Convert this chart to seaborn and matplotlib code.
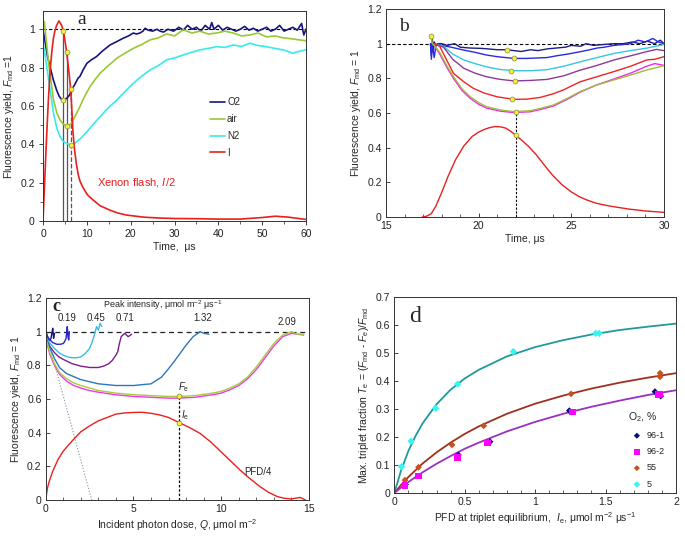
import matplotlib
matplotlib.use("Agg")
import matplotlib.pyplot as plt
from matplotlib.ticker import MultipleLocator, FuncFormatter
import seaborn as sns

# ---- panel a: fluorescence under xenon flash ----
a_t_o2 = [0, 0.5, 1, 1.6, 2.3, 3.1, 3.7, 4.3, 4.8, 5.4, 6, 6.5, 7.2, 8, 8.4, 9.2, 10, 11, 12.2, 13.5,
          15.3, 16.8, 18.3, 19.5, 20.6, 21.3, 22.1, 22.8, 23.3, 24, 25, 26, 26.7, 27.5, 28.5, 29.8, 31, 32, 33, 34,
          35, 36, 37, 38, 38.5, 39, 40, 41, 42, 43, 44, 45, 46, 47, 48, 49, 50, 51, 52, 53,
          54, 55, 56, 57, 58, 59, 59.5, 60]
a_o2 = [1.0, 0.93, 0.86, 0.805, 0.74, 0.683, 0.65, 0.632, 0.628, 0.64, 0.655, 0.683, 0.71, 0.745, 0.753, 0.79, 0.822, 0.84, 0.857, 0.885,
        0.918, 0.935, 0.953, 0.965, 0.98, 0.975, 0.98, 0.99, 1.005, 0.995, 0.99, 1.0, 0.99, 0.985, 1.0, 0.99, 1.01, 0.995, 1.02, 1.0,
        1.01, 0.99, 1.02, 1.0, 1.035, 1.0, 1.02, 0.995, 1.01, 1.0, 0.99, 1.0, 1.015, 0.995, 1.005, 0.99, 1.0, 1.01, 0.99, 1.0,
        1.02, 0.99, 1.0, 1.01, 0.995, 1.03, 0.97, 1.0]
a_t_air = [0, 0.3, 0.7, 1.4, 2.4, 3.2, 3.9, 4.6, 5.4, 6.0, 6.5, 7.4, 8.4, 9.5, 10.7, 11.8, 13, 14.9, 16.8, 18.7,
           20.6, 22.5, 24.4, 26.3, 28.2, 30, 32, 34, 35.8, 37.7, 39.6, 41.5, 43.4, 45.3, 47.2, 49, 51, 53, 54.8, 56.7,
           58.6, 60]
a_air = [1.0, 1.04, 0.95, 0.8, 0.63, 0.56, 0.526, 0.505, 0.495, 0.5, 0.51, 0.55, 0.596, 0.65, 0.70, 0.735, 0.77, 0.81, 0.848, 0.875,
         0.9, 0.92, 0.944, 0.955, 0.975, 0.965, 0.997, 0.98, 0.99, 0.975, 0.98, 0.99, 0.98, 0.965, 0.97, 0.98, 0.96, 0.965, 0.955, 0.95,
         0.944, 0.94]
a_t_n2 = [0, 0.5, 1.4, 2.4, 3.2, 3.9, 4.6, 5.4, 6.3, 7.0, 7.7, 8.8, 10, 11.5, 13, 14.9, 16.8, 18.7, 20.6, 22.5,
          24.4, 26.3, 28.2, 30, 32, 34, 35.8, 37.7, 39.6, 41.5, 43.4, 45.3, 47.2, 49, 51, 52.9, 54.8, 57, 58.5, 60]
a_n2 = [0.93, 0.86, 0.72, 0.56, 0.48, 0.44, 0.415, 0.404, 0.395, 0.40, 0.413, 0.435, 0.465, 0.505, 0.544, 0.59, 0.63, 0.675, 0.718, 0.755,
        0.787, 0.81, 0.84, 0.85, 0.866, 0.88, 0.892, 0.9, 0.909, 0.905, 0.918, 0.91, 0.927, 0.915, 0.909, 0.9, 0.892, 0.875, 0.885, 0.892]
a_t_flash = [0, 0.4, 0.8, 1.2, 1.6, 2.0, 2.35, 2.7, 3.1, 3.65, 4.25, 4.65, 4.95, 5.4, 5.85, 6.3, 6.55, 6.85, 7.2, 7.6,
             8.0, 8.4, 9.0, 9.5, 10.2, 11.4, 12.2, 13, 15.2, 17, 19, 23, 26, 30, 35, 40, 45, 50, 53, 56,
             60]
a_flash = [0, 0.22, 0.43, 0.62, 0.78, 0.88, 0.95, 0.99, 1.02, 1.043, 1.02, 0.99, 0.95, 0.88, 0.79, 0.69, 0.59, 0.46, 0.37, 0.30,
           0.245, 0.21, 0.18, 0.16, 0.135, 0.11, 0.095, 0.08, 0.057, 0.042, 0.031, 0.02, 0.016, 0.013, 0.012, 0.01, 0.01, 0.018, 0.025, 0.02,
           0.008]
a_mark_t = [4.65, 5.4, 6.3]
a_mark_flash = [0.99, 0.88, 0.69]
a_mark_min = [0.63, 0.495, 0.395]
a_labels = ["O2", "air", "N2", "I"]

# ---- panel b: flashes of different intensity ----
b_t_1 = [17.4, 17.45, 17.5, 17.55, 17.6, 17.7, 17.8, 18.0, 18.3, 18.7, 19.0, 19.5, 20.1, 20.5, 21.0, 21.5, 21.9, 22.3, 22.8, 23.2,
         23.7, 24.2, 24.7, 25.0, 25.5, 25.8, 26.2, 26.7, 27.3, 27.8, 28.3, 28.7, 29.1, 29.5, 29.8, 30.0]
b_y_1 = [1.0, 0.93, 1.03, 0.95, 1.01, 0.99, 1.0, 1.0, 0.99, 1.0, 0.98, 0.975, 0.973, 0.97, 0.965, 0.965, 0.96, 0.955, 0.965, 0.96,
         0.97, 0.975, 0.98, 0.99, 0.985, 1.0, 0.99, 0.995, 1.0, 1.0, 1.01, 1.0, 1.015, 1.0, 1.02, 1.0]
b_t_2 = [17.4, 17.45, 17.5, 17.6, 17.7, 17.8, 18.0, 18.5, 19.2, 19.8, 20.4, 21.0, 21.9, 22.6, 23.3, 23.7, 24.2, 24.8, 25.5, 26.0,
         26.4, 26.8, 27.3, 27.8, 28.2, 28.6, 29.0, 29.4, 29.7, 30.0]
b_y_2 = [1.0, 0.91, 1.0, 0.92, 0.99, 1.0, 0.99, 0.98, 0.963, 0.95, 0.935, 0.925, 0.915, 0.915, 0.918, 0.92, 0.93, 0.94, 0.954, 0.965,
         0.975, 0.98, 0.99, 0.995, 1.0, 1.02, 1.01, 1.03, 1.01, 1.0]
b_t_3 = [17.6, 18.1, 18.6, 19.2, 19.8, 20.4, 21.1, 21.9, 22.8, 23.7, 24.6, 25.5, 26.4, 27.3, 28.2, 29.1, 30.0]
b_y_3 = [1.0, 0.985, 0.94, 0.906, 0.885, 0.867, 0.852, 0.844, 0.844, 0.85, 0.87, 0.896, 0.92, 0.944, 0.96, 0.975, 0.995]
b_t_4 = [17.6, 18.1, 18.6, 19.2, 19.8, 20.4, 21.1, 21.9, 22.8, 23.7, 24.6, 25.5, 26.4, 27.3, 28.2, 29.1, 29.6, 30.0]
b_y_4 = [1.0, 0.98, 0.91, 0.858, 0.83, 0.81, 0.795, 0.785, 0.788, 0.794, 0.815, 0.848, 0.875, 0.906, 0.93, 0.955, 0.967, 0.96]
b_t_5 = [17.6, 17.9, 18.3, 18.64, 19.2, 19.72, 20.3, 20.98, 21.88, 22.6, 23.32, 24.0, 24.57, 25.47, 26.4, 27.27, 28.2, 29.07, 29.5, 30.0]
b_y_5 = [1.0, 0.985, 0.9, 0.829, 0.78, 0.742, 0.715, 0.694, 0.679, 0.68, 0.69, 0.71, 0.733, 0.78, 0.81, 0.838, 0.87, 0.906, 0.91, 0.925]
b_t_6 = [17.6, 17.9, 18.3, 18.64, 19.1, 19.54, 20.0, 20.44, 21.2, 21.88, 22.78, 23.4, 24.03, 24.8, 25.47, 26.37, 27.27, 28.2, 29.07, 29.5, 30.0]
b_y_6 = [0.99, 0.94, 0.86, 0.8, 0.73, 0.685, 0.65, 0.628, 0.61, 0.603, 0.607, 0.622, 0.64, 0.68, 0.72, 0.762, 0.795, 0.83, 0.87, 0.885, 0.875]
b_t_7 = [17.45, 17.5, 17.6, 17.9, 18.3, 18.64, 19.1, 19.54, 20.0, 20.44, 21.2, 21.88, 22.78, 23.4, 24.03, 24.8, 25.47, 26.37, 27.27, 28.2,
         29.07, 30.0]
b_y_7 = [1.045, 1.0, 0.99, 0.95, 0.87, 0.81, 0.74, 0.694, 0.66, 0.636, 0.617, 0.608, 0.613, 0.628, 0.646, 0.685, 0.723, 0.762, 0.79, 0.819,
         0.848, 0.873]
b_t_flash = [16.95, 17.2, 17.45, 17.7, 18.0, 18.35, 18.75, 19.2, 19.65, 20.0, 20.3, 20.6, 20.9, 21.2, 21.45, 21.7, 21.97, 22.3, 22.7, 23.1,
             23.6, 24.0, 24.5, 25.0, 25.4, 25.8, 26.3, 26.7, 27.2, 28.1, 29.0, 30.0]
b_flash = [0, 0.005, 0.02, 0.065, 0.14, 0.235, 0.33, 0.41, 0.465, 0.49, 0.505, 0.516, 0.522, 0.52, 0.513, 0.497, 0.474, 0.445, 0.407, 0.36,
           0.292, 0.24, 0.186, 0.145, 0.119, 0.1, 0.081, 0.071, 0.061, 0.046, 0.035, 0.027]
b_mark_t = [21.52, 21.93, 21.75, 21.95, 21.78, 22.0, 22.0, 17.45]
b_mark_y = [0.965, 0.918, 0.845, 0.785, 0.679, 0.608, 0.474, 1.045]

# ---- panel c: yield vs incident photon dose ----
c_q_1 = [0, 0.05, 0.1, 0.15, 0.2, 0.25, 0.3, 0.35, 0.4, 0.45, 0.5]
c_y_1 = [1.02, 0.99, 0.97, 0.955, 0.95, 0.95, 0.96, 0.99, 1.02, 0.96, 0.99]
c_q_2 = [0, 0.2, 0.4, 0.63, 0.85, 1.01, 1.1, 1.16, 1.2, 1.23, 1.27, 1.31, 1.35]
c_y_2 = [0.99, 0.955, 0.935, 0.925, 0.925, 0.93, 0.945, 0.96, 1.0, 1.03, 0.97, 0.95, 1.0]
c_q_3 = [0, 0.25, 0.5, 0.75, 1.0, 1.25, 1.5, 1.75, 2.0, 2.25, 2.5, 2.65, 2.8, 2.9, 3.0, 3.1, 3.2]
c_y_3 = [0.97, 0.93, 0.9, 0.875, 0.86, 0.85, 0.845, 0.845, 0.85, 0.87, 0.9, 0.94, 0.99, 1.03, 1.01, 1.05, 1.03]
c_q_4 = [0, 0.25, 0.5, 0.75, 1.0, 1.5, 2.0, 2.5, 3.0, 3.3, 3.6, 3.8, 4.0, 4.1, 4.2, 4.3, 4.5, 4.7, 4.9]
c_y_4 = [0.96, 0.91, 0.875, 0.85, 0.835, 0.81, 0.795, 0.787, 0.787, 0.795, 0.81, 0.83, 0.86, 0.88, 0.93, 0.97, 0.99, 0.97, 0.985]
c_q_5 = [0, 0.25, 0.5, 0.8, 1.2, 2, 3, 4, 5, 6, 6.6, 7.0, 7.3, 7.65, 8.0, 8.4, 8.8, 9.0, 9.3]
c_y_5 = [0.97, 0.9, 0.84, 0.785, 0.75, 0.715, 0.69, 0.68, 0.68, 0.69, 0.73, 0.78, 0.82, 0.87, 0.92, 0.97, 1.0, 0.99, 0.985]
c_q_6 = [0, 0.25, 0.5, 0.8, 1.2, 1.6, 2, 2.5, 3, 4, 5, 6, 7, 7.6, 8.5, 9.5, 10, 10.5, 11, 11.5,
         12, 12.5, 13, 13.5, 14, 14.3, 14.7]
c_y_6 = [0.96, 0.87, 0.81, 0.755, 0.72, 0.695, 0.68, 0.665, 0.65, 0.635, 0.625, 0.62, 0.615, 0.615, 0.62, 0.635, 0.645, 0.665, 0.69, 0.73,
         0.79, 0.86, 0.93, 0.98, 1.0, 0.985, 0.985]
c_y_7 = [0.96, 0.86, 0.80, 0.745, 0.705, 0.68, 0.665, 0.65, 0.64, 0.625, 0.615, 0.61, 0.605, 0.605, 0.61, 0.625, 0.635, 0.655, 0.68, 0.72,
         0.775, 0.845, 0.915, 0.97, 0.99, 0.985, 0.98]
c_q_pfd = [0, 0.1, 0.2, 0.4, 0.7, 1.0, 1.5, 2.0, 2.5, 3, 3.5, 4, 4.5, 5, 5.5, 6, 6.5, 7, 7.6, 8.2,
           8.8, 9.4, 10, 10.6, 11.1, 11.6, 12.2, 12.7, 13.2, 13.6, 14, 14.3, 14.5, 14.8]
c_pfd = [0, 0.07, 0.11, 0.17, 0.24, 0.29, 0.35, 0.405, 0.44, 0.47, 0.49, 0.51, 0.517, 0.52, 0.521, 0.515, 0.505, 0.49, 0.46, 0.43,
         0.395, 0.345, 0.285, 0.225, 0.175, 0.13, 0.08, 0.045, 0.02, 0.01, 0.006, 0.012, 0.015, 0.0]
c_tan_q = [0, 2.62]
c_tan_y = [1.0, 0.0]
c_peaks = ["0.19", "0.45", "0.71", "1.32", "2.09"]
c_peak_q = [1.19, 2.87, 4.52, 8.94, 13.77]
c_peak_y = [1.08, 1.08, 1.08, 1.08, 1.06]
c_eq_q = 7.62
c_eq_f = 0.615
c_eq_i = 0.46

# ---- panel d: triplet fraction vs PFD ----
d_x_fit = [0, 0.05, 0.1, 0.15, 0.2, 0.3, 0.4, 0.5, 0.6, 0.8, 1.0, 1.2, 1.4, 1.6, 1.8, 2.0]
d_fit_5 = [0, 0.0835, 0.150, 0.203, 0.248, 0.317, 0.369, 0.409, 0.440, 0.488, 0.521, 0.546, 0.566, 0.582, 0.594, 0.605]
d_fit_55 = [0, 0.0298, 0.057, 0.081, 0.105, 0.145, 0.180, 0.211, 0.238, 0.283, 0.319, 0.348, 0.373, 0.394, 0.412, 0.428]
d_fit_96 = [0, 0.020, 0.039, 0.057, 0.0736, 0.1045, 0.132, 0.158, 0.180, 0.220, 0.254, 0.283, 0.308, 0.330, 0.350, 0.367]
d_x_961 = [0.08, 0.455, 0.68, 1.243, 1.851, 1.892]
d_y_961 = [0.03, 0.136, 0.183, 0.294, 0.362, 0.346]
d_x_962 = [0.076, 0.172, 0.45, 0.663, 1.267, 1.876, 1.887]
d_y_962 = [0.027, 0.061, 0.127, 0.179, 0.29, 0.352, 0.352]
d_x_55 = [0.076, 0.172, 0.41, 0.635, 1.255, 1.887, 1.887]
d_y_55 = [0.046, 0.092, 0.172, 0.24, 0.354, 0.428, 0.415]
d_x_5 = [0.052, 0.119, 0.294, 0.45, 0.845, 1.43, 1.455]
d_y_5 = [0.094, 0.185, 0.303, 0.389, 0.505, 0.57, 0.57]
d_labels = ["96-1", "96-2", "55", "5"]

sns.set_theme(style="ticks")
plt.rcParams["font.family"] = ["Liberation Sans", "DejaVu Sans"]
plt.rcParams["mathtext.fontset"] = "custom"
plt.rcParams["mathtext.rm"] = "Liberation Sans"
plt.rcParams["mathtext.it"] = "Liberation Sans:italic"
plt.rcParams["mathtext.bf"] = "Liberation Sans:bold"
plt.rcParams["axes.linewidth"] = 0.7
plt.rcParams["axes.edgecolor"] = "#333333"

FS = 7.5
fmt = FuncFormatter(lambda v, p: f"{v:g}")
YEL = dict(marker="o", markersize=3.5, markerfacecolor="#f4f040", markeredgecolor="#8a8a30",
           markeredgewidth=0.5, linestyle="none", zorder=6)


def style(ax, xlim, ylim, xmaj, xmin, ymaj, ymin, direction):
    ax.set_xlim(*xlim)
    ax.set_ylim(*ylim)
    ax.xaxis.set_major_locator(MultipleLocator(xmaj))
    ax.yaxis.set_major_locator(MultipleLocator(ymaj))
    if xmin:
        ax.xaxis.set_minor_locator(MultipleLocator(xmin))
    if ymin:
        ax.yaxis.set_minor_locator(MultipleLocator(ymin))
    ax.xaxis.set_major_formatter(fmt)
    ax.yaxis.set_major_formatter(fmt)
    ax.tick_params(which="major", direction=direction, length=3, width=0.6, labelsize=FS, pad=3, colors="#222222")
    ax.tick_params(which="minor", direction=direction, length=2, width=0.5)
    for s in ax.spines.values():
        s.set_visible(True)


def line(ax, x, y, color, lw=1.0, **kw):
    sns.lineplot(x=x, y=y, ax=ax, color=color, linewidth=lw, sort=False, estimator=None, **kw)


fig = plt.figure(figsize=(6.85, 5.36), dpi=100)
ax_a = fig.add_axes([0.0628, 0.5877, 0.3839, 0.3918])
ax_b = fig.add_axes([0.5635, 0.5951, 0.4058, 0.3881])
ax_c = fig.add_axes([0.0667, 0.0672, 0.3844, 0.3769])
ax_d = fig.add_axes([0.5756, 0.0802, 0.4112, 0.3657])

# panel a
ax = ax_a
ax.plot([0, 60], [1, 1], color="black", lw=0.8, ls=(0, (3, 2)), zorder=1)
for tt, top, ls in zip(a_mark_t, a_mark_flash, ["-", "-", "--"]):
    ax.plot([tt, tt], [0, top], color="#555555", lw=0.9, ls=ls, zorder=2)
line(ax, a_t_o2, a_o2, "#16167a", 1.2, label=a_labels[0])
line(ax, a_t_air, a_air, "#99c833", 1.2, label=a_labels[1])
line(ax, a_t_n2, a_n2, "#35ecec", 1.2, label=a_labels[2])
line(ax, a_t_flash, a_flash, "#e8201e", 1.2, label=a_labels[3])
ax.plot(a_mark_t, a_mark_flash, **YEL)
ax.plot(a_mark_t, a_mark_min, **YEL)
ax.legend(loc="upper left", bbox_to_anchor=(0.6, 0.63), frameon=False, fontsize=7,
          handlelength=1.6, handletextpad=0.2, labelspacing=0.7)
ax.text(8.8, 1.05, "a", fontsize=14, family="Liberation Serif", ha="center", va="center")
ax.text(12.3, 0.2, "Xenon flash, $\\mathit{I}$/2", color="#e8201e", fontsize=8, va="center")
style(ax, (0, 60), (0, 1.095), 10, 5, 0.2, 0.1, "out")
ax.set_xlabel("Time,  μs", fontsize=FS, labelpad=2)
ax.set_ylabel("Fluorescence yield, $F_{\\rm md}$ =1", fontsize=FS, labelpad=3)

# panel b
ax = ax_b
ax.plot([15, 30], [1, 1], color="black", lw=0.8, ls=(0, (3, 2)), zorder=1)
ax.plot([22, 22], [0, 0.608], color="black", lw=0.8, ls=(0, (2, 1.5)), zorder=2)
line(ax, b_t_1, b_y_1, "#1c1c82")
line(ax, b_t_2, b_y_2, "#2a2ae0")
line(ax, b_t_3, b_y_3, "#36c6e6")
line(ax, b_t_4, b_y_4, "#8c3a96")
line(ax, b_t_5, b_y_5, "#ee2424")
line(ax, b_t_6, b_y_6, "#ee2aee")
line(ax, b_t_7, b_y_7, "#a0bc36")
line(ax, b_t_flash, b_flash, "#e8201e")
ax.plot(b_mark_t, b_mark_y, **YEL)
ax.text(15.95, 1.1, "b", fontsize=14, family="Liberation Serif", ha="center", va="center")
style(ax, (15, 30), (0, 1.2), 5, 1, 0.2, None, "in")
ax.set_xlabel("Time, μs", fontsize=FS, labelpad=2)
ax.set_ylabel("Fluorescence yield, $F_{\\rm md}$ = 1", fontsize=FS, labelpad=3)

# panel c
ax = ax_c
ax.plot([0, 15], [1, 1], color="#222222", lw=0.9, ls=(0, (4, 3)), zorder=1)
ax.plot([c_eq_q, c_eq_q], [0, c_eq_f], color="black", lw=0.9, ls=(0, (2, 1.5)), zorder=2)
line(ax, c_tan_q, c_tan_y, "#8090a8", 0.8, linestyle=":")
line(ax, c_q_1, c_y_1, "#101080")
line(ax, c_q_2, c_y_2, "#2626c8")
line(ax, c_q_3, c_y_3, "#38bce8")
line(ax, c_q_4, c_y_4, "#7a1f8a")
line(ax, c_q_5, c_y_5, "#2a78bc")
line(ax, c_q_6, c_y_7, "#ee36ee")
line(ax, c_q_6, c_y_6, "#a8cc38")
line(ax, c_q_pfd, c_pfd, "#e8201e")
ax.plot([c_eq_q, c_eq_q], [c_eq_f, c_eq_i], **YEL)
for lab, q, y in zip(c_peaks, c_peak_q, c_peak_y):
    ax.text(q, y, lab, fontsize=7, ha="center", va="center")
ax.text(6.65, 1.157, "Peak intensity, μmol m$^{-2}$ μs$^{-1}$", fontsize=6.5, ha="center", va="center")
ax.text(0.6, 1.15, "c", fontsize=13, family="Liberation Serif", fontweight="bold", ha="center", va="center")
ax.text(7.85, 0.67, "$F_{\\rm e}$", fontsize=7, ha="center", va="center")
ax.text(7.95, 0.505, "$I_{\\rm e}$", fontsize=7, ha="center", va="center")
ax.text(12.1, 0.168, "PFD/4", fontsize=7, ha="center", va="center")
style(ax, (0, 15), (0, 1.2), 5, 1, 0.2, None, "in")
ax.set_xlabel("Incident photon dose, $Q$, μmol m$^{-2}$", fontsize=FS, labelpad=2)
ax.set_ylabel("Fluorescence yield, $F_{\\rm md}$ = 1", fontsize=FS, labelpad=3)

# panel d
ax = ax_d
line(ax, d_x_fit, d_fit_5, "#1f9a9a", 1.3)
line(ax, d_x_fit, d_fit_55, "#a0301e", 1.3)
line(ax, d_x_fit, d_fit_96, "#9a30c0", 1.3)
sns.scatterplot(x=d_x_961, y=d_y_961, ax=ax, marker="D", s=12, color="#0d0d80", edgecolor="none", label=d_labels[0], zorder=5)
sns.scatterplot(x=d_x_962, y=d_y_962, ax=ax, marker="s", s=22, color="#ff00ff", edgecolor="none", label=d_labels[1], zorder=6)
sns.scatterplot(x=d_x_55, y=d_y_55, ax=ax, marker="D", s=12, color="#c8501e", edgecolor="none", label=d_labels[2], zorder=5)
sns.scatterplot(x=d_x_5, y=d_y_5, ax=ax, marker="D", s=14, color="#35f5f5", edgecolor="none", label=d_labels[3], zorder=5)
leg = ax.legend(loc="upper left", bbox_to_anchor=(0.81, 0.45), frameon=False, fontsize=6.5,
                title="O$_2$, %", title_fontsize=7.5, handletextpad=0.05, labelspacing=0.8,
                markerscale=0.9, alignment="left", borderaxespad=0.2)
ax.text(0.147, 0.63, "d", fontsize=17, family="Liberation Serif", ha="center", va="center")
style(ax, (0, 2), (0, 0.7), 0.5, 0.1, 0.1, None, "in")
ax.set_xlabel("PFD at triplet equilibrium,  $I_{\\rm e}$, μmol m$^{-2}$ μs$^{-1}$", fontsize=FS, labelpad=2)
ax.set_ylabel("Max. triplet fraction $T_{\\rm e}$ = ($F_{\\rm md}$ - $F_{\\rm e}$)/$F_{\\rm md}$", fontsize=FS, labelpad=3)

fig.savefig("out.png", dpi=100)
